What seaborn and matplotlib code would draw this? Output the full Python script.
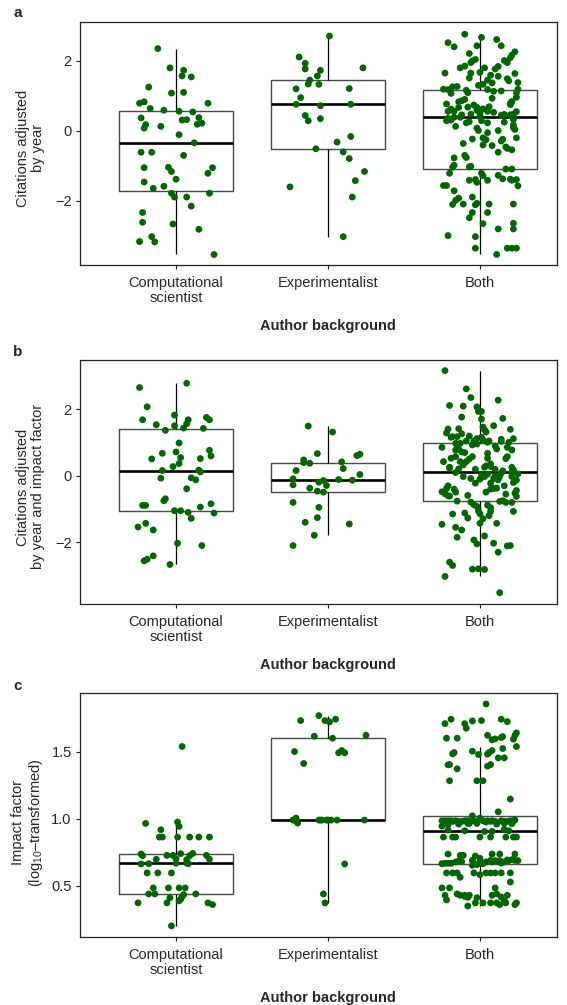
import numpy as np
import pandas as pd
import matplotlib
matplotlib.use("Agg")
import matplotlib.pyplot as plt
import seaborn as sns

groups = ["Computational\nscientist", "Experimentalist", "Both"]

# --- panel a: citations adjusted by year ---
a_comp = [2.34, 1.79, 1.72, 1.56, 1.53, 1.24, 1.07, 1.09, 0.78, 0.82, 0.78, 0.63, 0.58, 0.55, 0.53, 0.36, 0.37,
          0.30, 0.31, 0.17, 0.07, 0.12, 0.18, 0.21, -0.12, -0.35, -0.62, -0.62, -0.71, -1.06, -1.05, -1.17, -1.06,
          -1.22, -1.39, -1.47, -1.65, -1.59, -1.79, -1.90, -1.90, -1.79, -2.16, -2.34, -2.62, -2.67, -2.82, -3.03,
          -3.17, -3.18, -3.54]
a_comp_jit = [-0.12, -0.04, 0.05, 0.04, 0.10, -0.18, -0.03, 0.05, -0.24, -0.21, 0.21, -0.17, -0.08, 0.02, 0.11,
              -0.23, 0.15, 0.04, 0.07, -0.20, -0.21, -0.10, 0.14, 0.17, 0.02, 0.12, -0.23, -0.16, 0.05, -0.21,
              -0.05, -0.03, 0.24, 0.21, 0.00, -0.21, -0.15, -0.08, -0.03, -0.01, 0.07, 0.22, 0.10, -0.22, -0.22,
              -0.02, 0.15, -0.16, -0.24, -0.14, 0.25]
a_exp = [2.70, 2.10, 1.92, 1.76, 1.79, 1.72, 1.56, 1.44, 1.33, 1.32, 1.19, 1.20, 0.94, 0.75, 0.71, 0.75, 0.43,
         0.28, 0.34, -0.17, -0.33, -0.52, -0.61, -0.80, -1.17, -1.43, -1.61, -1.90, -3.03]
a_exp_jit = [0.01, -0.19, -0.15, -0.15, 0.23, -0.05, -0.07, -0.12, -0.13, -0.06, -0.21, 0.14, -0.18, -0.21, -0.05,
             0.15, -0.15, -0.13, -0.05, 0.15, 0.06, -0.08, 0.10, 0.14, 0.24, 0.18, -0.25, 0.16, 0.10]
a_both = [2.75, 2.66, 2.60, 2.51, 2.39, 2.42, 2.42, 2.25, 2.20, 2.15, 2.08, 2.03, 1.99, 1.94, 2.00, 1.94, 1.84,
          1.79, 1.79, 1.83, 1.76, 1.64, 1.64, 1.66, 1.63, 1.58, 1.50, 1.44, 1.55, 1.48, 1.36, 1.29, 1.32, 1.37,
          1.42, 1.25, 1.26, 1.18, 1.17, 1.15, 1.08, 1.17, 1.12, 1.18, 1.08, 1.06, 1.13, 0.92, 0.95, 0.85, 0.82,
          0.89, 0.76, 0.83, 0.78, 0.74, 0.73, 0.66, 0.67, 0.62, 0.68, 0.61, 0.55, 0.55, 0.66, 0.45, 0.58, 0.55,
          0.52, 0.54, 0.47, 0.49, 0.40, 0.47, 0.35, 0.30, 0.38, 0.38, 0.44, 0.46, 0.45, 0.25, 0.22, 0.28, 0.22,
          0.32, 0.28, 0.24, 0.12, 0.16, 0.08, 0.03, 0.07, 0.00, 0.00, -0.06, -0.21, -0.26, -0.24, -0.25, -0.30,
          -0.21, -0.37, -0.41, -0.43, -0.47, -0.51, -0.55, -0.62, -0.71, -0.77, -0.78, -0.99, -1.05, -1.04, -1.02,
          -1.22, -1.10, -1.10, -1.22, -1.29, -1.28, -1.38, -1.42, -1.40, -1.48, -1.42, -1.39, -1.42, -1.40, -1.57,
          -1.57, -1.58, -1.72, -1.93, -1.99, -2.11, -2.10, -2.12, -2.08, -2.10, -2.10, -1.90, -2.34, -2.34, -2.49,
          -2.66, -2.65, -2.81, -2.81, -3.00, -3.03, -3.36, -3.36, -3.36, -3.36, -3.54]
a_both_jit = [-0.10, 0.01, 0.11, -0.21, -0.17, -0.02, 0.14, 0.23, -0.07, 0.21, 0.20, -0.03, -0.05, -0.06, 0.16,
              0.18, -0.10, -0.13, 0.03, 0.12, 0.10, -0.23, -0.06, 0.00, 0.23, 0.07, -0.07, 0.05, 0.12, 0.18, 0.08,
              -0.01, 0.02, 0.25, 0.19, -0.18, -0.15, -0.24, -0.21, -0.09, -0.08, 0.05, 0.09, 0.25, 0.24, -0.19,
              0.14, 0.08, 0.24, -0.12, -0.14, -0.10, -0.22, 0.21, 0.20, 0.20, -0.04, -0.02, -0.08, 0.02, 0.06,
              -0.19, -0.21, -0.17, -0.14, -0.12, -0.02, 0.05, 0.09, 0.24, 0.22, 0.00, 0.00, -0.06, -0.21, -0.19,
              -0.17, -0.13, 0.14, 0.16, 0.20, -0.07, -0.09, 0.01, 0.05, 0.22, -0.22, 0.16, -0.16, 0.22, 0.22, 0.23,
              -0.02, -0.01, 0.12, 0.05, 0.02, 0.04, -0.05, 0.15, 0.14, 0.24, -0.11, 0.02, 0.08, 0.17, 0.18, 0.21,
              0.12, -0.10, -0.09, -0.17, -0.17, -0.18, -0.07, -0.06, -0.20, 0.17, 0.21, 0.01, 0.02, 0.12, 0.15,
              -0.07, -0.03, -0.02, 0.05, 0.20, 0.21, 0.24, -0.24, -0.22, 0.25, -0.17, -0.14, -0.16, -0.18, -0.11,
              -0.03, -0.02, 0.06, 0.22, -0.05, -0.05, 0.05, -0.07, 0.02, 0.22, 0.12, 0.22, -0.21, -0.03, -0.03,
              0.18, 0.21, 0.24, 0.11]

# --- panel b: citations adjusted by year and impact factor ---
b_comp = [2.66, 2.79, 2.08, 1.69, 1.83, 1.54, 1.37, 1.51, 1.44, 1.57, 1.69, 1.76, 1.69, 1.43, 0.99, 0.68, 0.72,
          0.51, 0.55, 0.37, 0.28, 0.52, 0.77, 0.60, 0.16, 0.17, 0.12, -0.07, -0.06, -0.12, -0.39, -0.69, -0.75,
          -0.89, -0.89, -1.05, -1.05, -1.10, -1.28, -0.94, -0.84, -1.12, -1.54, -1.43, -1.63, -2.03, -2.10, -2.41,
          -2.56, -2.51, -2.67]
b_comp_jit = [-0.24, 0.07, -0.19, -0.22, -0.01, -0.13, -0.07, -0.01, 0.05, 0.07, 0.08, 0.20, 0.22, 0.18, 0.02,
              -0.09, 0.00, -0.16, 0.03, 0.02, -0.02, 0.16, 0.22, 0.23, -0.09, 0.15, 0.16, -0.10, 0.10, 0.13, 0.07,
              -0.07, -0.08, -0.22, -0.20, -0.01, 0.03, 0.08, 0.10, 0.16, 0.23, 0.25, -0.25, -0.20, -0.15, 0.01,
              0.17, -0.15, -0.21, -0.19, -0.04]
b_exp = [1.50, 1.32, 0.67, 0.48, 0.40, 0.38, 0.61, 0.65, 0.42, 0.22, 0.16, 0.04, -0.09, -0.27, -0.19, -0.14,
         -0.29, -0.11, -0.13, -0.37, -0.46, -0.49, -0.80, -0.95, -1.26, -1.40, -1.45, -1.79, -2.10]
b_exp_jit = [-0.13, 0.03, -0.07, -0.16, -0.16, -0.12, 0.19, 0.21, 0.09, 0.10, -0.21, 0.21, -0.23, -0.23, -0.06,
             -0.03, -0.01, 0.07, 0.16, -0.12, -0.07, -0.03, -0.23, -0.06, -0.07, -0.15, 0.14, -0.09, -0.23]
b_both = [3.17, 2.62, 2.36, 2.28, 2.12, 2.10, 2.08, 1.94, 1.94, 1.77, 1.71, 1.73, 1.51, 1.47, 1.39, 1.32, 1.41,
          1.29, 1.42, 1.40, 1.18, 1.16, 1.18, 1.27, 1.20, 1.12, 1.12, 1.16, 1.08, 1.05, 1.05, 1.05, 1.01, 1.10,
          1.04, 1.01, 0.98, 0.92, 0.98, 0.93, 0.86, 0.96, 0.90, 0.81, 0.86, 0.78, 0.78, 0.80, 0.72, 0.70, 0.68,
          0.58, 0.53, 0.58, 0.51, 0.43, 0.58, 0.52, 0.43, 0.53, 0.43, 0.36, 0.30, 0.26, 0.28, 0.33, 0.26, 0.23,
          0.20, 0.21, 0.10, 0.20, 0.15, 0.08, 0.26, 0.18, 0.11, 0.06, 0.05, 0.05, -0.02, -0.02, -0.08, -0.01,
          -0.08, -0.10, -0.02, -0.22, -0.22, -0.02, -0.12, -0.13, -0.20, -0.30, -0.38, -0.40, -0.49, -0.30, -0.40,
          -0.38, -0.37, -0.48, -0.49, -0.54, -0.60, -0.61, -0.59, -0.44, -0.52, -0.62, -0.55, -0.76, -0.79, -0.87,
          -0.77, -0.75, -0.80, -0.80, -0.88, -0.96, -0.92, -1.06, -1.14, -1.07, -1.15, -1.12, -1.27, -1.20, -1.07,
          -1.29, -1.43, -1.43, -1.46, -1.55, -1.63, -1.85, -1.81, -1.93, -2.05, -2.03, -2.10, -2.11, -2.30, -2.60,
          -2.70, -2.81, -2.80, -2.82, -3.03, -3.52]
b_both_jit = [-0.23, -0.09, -0.06, 0.12, -0.20, -0.11, -0.02, -0.01, 0.01, -0.12, 0.01, 0.15, 0.09, 0.02, 0.03,
              0.04, -0.21, -0.22, -0.14, 0.20, -0.18, -0.19, -0.15, -0.12, -0.07, 0.22, -0.02, 0.01, 0.02, -0.09,
              -0.04, 0.06, 0.05, 0.14, 0.14, 0.19, -0.16, -0.15, -0.13, -0.05, -0.25, -0.02, 0.10, 0.11, 0.18,
              0.21, -0.16, -0.14, -0.12, -0.10, 0.05, -0.05, -0.19, -0.16, -0.07, -0.09, 0.18, 0.17, -0.24, 0.05,
              -0.13, 0.07, 0.04, 0.03, 0.07, -0.11, -0.20, -0.20, -0.03, -0.14, -0.16, 0.10, 0.15, 0.14, 0.21,
              0.22, 0.21, 0.25, 0.01, 0.05, -0.11, 0.21, -0.06, 0.10, 0.09, 0.00, 0.03, -0.03, 0.07, 0.13, 0.12,
              0.24, 0.22, -0.21, -0.22, -0.17, -0.16, 0.16, 0.07, 0.09, 0.11, -0.25, 0.04, -0.23, -0.21, -0.20,
              -0.08, 0.24, 0.23, 0.24, 0.17, -0.15, -0.06, -0.04, 0.13, 0.15, 0.17, 0.21, 0.05, 0.07, -0.02, -0.01,
              0.00, 0.07, -0.18, -0.10, -0.08, 0.06, 0.22, 0.02, 0.00, 0.11, -0.25, -0.16, -0.12, -0.15, 0.03,
              -0.04, -0.02, 0.09, 0.20, 0.18, 0.12, -0.20, -0.18, -0.05, -0.01, 0.03, -0.23, 0.13]

# --- panel c: impact factor (log10) ---
c_comp = [1.54, 0.965, 0.975, 0.943, 0.918, 0.863, 0.863, 0.863, 0.863, 0.863, 0.863, 0.736, 0.724, 0.726, 0.726,
          0.739, 0.724, 0.741, 0.726, 0.697, 0.662, 0.664, 0.701, 0.667, 0.694, 0.669, 0.664, 0.697, 0.595, 0.595,
          0.595, 0.483, 0.483, 0.483, 0.483, 0.438, 0.438, 0.410, 0.433, 0.418, 0.398, 0.386, 0.438, 0.371, 0.371,
          0.371, 0.358, 0.199]
c_comp_jit = [0.04, -0.20, 0.01, 0.02, -0.10, -0.11, -0.09, 0.01, 0.09, 0.15, 0.22, -0.23, -0.22, -0.06, -0.02,
              0.03, 0.09, 0.11, 0.20, -0.13, -0.23, -0.18, 0.00, 0.00, 0.07, 0.07, 0.08, 0.22, -0.19, -0.12, -0.03,
              -0.15, -0.05, 0.02, 0.06, -0.18, -0.14, -0.04, 0.05, 0.04, 0.03, 0.02, 0.13, -0.25, -0.06, 0.21,
              0.24, -0.03]
c_exp = [1.734, 1.771, 1.734, 1.724, 1.744, 1.617, 1.602, 1.624, 1.502, 1.413, 1.493, 1.510, 1.493, 0.99, 0.99,
         1.005, 0.99, 0.968, 0.99, 0.99, 0.99, 0.99, 0.99, 0.99, 0.99, 0.99, 0.662, 0.438, 0.371]
c_exp_jit = [-0.18, -0.06, -0.02, 0.01, 0.05, -0.09, 0.03, 0.25, -0.22, -0.16, 0.07, 0.09, 0.11, -0.23, -0.22,
             -0.21, -0.21, -0.20, -0.06, -0.05, -0.04, -0.01, 0.00, 0.02, 0.06, 0.24, 0.11, -0.03, -0.02]
c_both = [1.858, 1.711, 1.744, 1.711, 1.677, 1.731, 1.734, 1.744, 1.726, 1.602, 1.602, 1.624, 1.590, 1.597, 1.607,
          1.614, 1.595, 1.622, 1.642, 1.540, 1.485, 1.495, 1.505, 1.480, 1.483, 1.495, 1.510, 1.525, 1.455, 1.455,
          1.403, 1.405, 1.373, 1.393, 1.405, 1.284, 1.284, 1.284, 1.147, 1.052, 1.022,
          0.985, 0.985, 0.985, 0.985, 0.985, 0.980, 0.980, 0.985, 0.965, 0.985, 1.005, 0.985, 0.985, 0.985, 0.980,
          0.985, 0.980, 0.985, 0.990, 0.945, 0.955, 0.960, 0.965, 0.965, 0.960, 0.965, 0.963, 0.975, 0.980, 0.985,
          0.975, 0.980, 0.980, 0.985,
          0.915, 0.905, 0.905, 0.920, 0.910, 0.910,
          0.863, 0.863, 0.863, 0.863, 0.863, 0.863, 0.863, 0.863,
          0.736, 0.726, 0.726, 0.721, 0.704, 0.736, 0.736, 0.736,
          0.664, 0.667, 0.667, 0.684, 0.679, 0.689, 0.667, 0.657, 0.664, 0.677, 0.689, 0.687, 0.687, 0.669, 0.692,
          0.687, 0.694, 0.689, 0.687, 0.652, 0.667, 0.677, 0.677, 0.677, 0.682, 0.677,
          0.595, 0.595, 0.562, 0.595, 0.582, 0.595, 0.595, 0.595, 0.527, 0.483, 0.483, 0.483, 0.428, 0.393, 0.438,
          0.428, 0.420, 0.413, 0.428, 0.410, 0.438, 0.415, 0.428, 0.388, 0.348, 0.371, 0.371, 0.371, 0.358, 0.358,
          0.371, 0.595, 0.595, 0.595, 0.428, 0.428, 0.371, 0.371]
c_both_jit = [0.04, -0.23, -0.19, -0.10, -0.09, -0.05, 0.01, 0.14, 0.18, -0.22, -0.15, 0.05, 0.08, 0.10, 0.14,
              0.15, 0.22, 0.23, 0.24, 0.24, -0.18, -0.17, -0.05, -0.01, 0.05, 0.06, 0.08, 0.15, 0.12, 0.16, -0.21,
              -0.20, -0.15, 0.05, 0.07, -0.20, -0.02, 0.02, 0.20, 0.12, -0.05,
              -0.25, -0.23, -0.21, -0.19, -0.16, -0.14, -0.12, -0.08, -0.07, -0.04, 0.00, 0.02, 0.05, 0.08, 0.10,
              0.14, 0.16, 0.20, 0.23, -0.25, -0.21, -0.14, -0.08, -0.02, 0.11, 0.16, 0.21, -0.23, -0.18, -0.10,
              0.04, 0.07, 0.18, 0.22,
              -0.21, 0.03, 0.08, 0.16, -0.10, 0.19,
              -0.24, -0.18, -0.16, 0.00, 0.07, 0.17, 0.22, 0.24,
              -0.21, -0.13, -0.11, -0.03, 0.00, 0.08, 0.13, 0.23,
              -0.25, -0.21, -0.19, -0.14, -0.12, -0.05, -0.04, -0.02, 0.02, 0.04, 0.07, 0.10, 0.13, 0.14, 0.18,
              0.19, 0.21, 0.23, 0.25, -0.05, -0.23, -0.16, 0.00, 0.08, 0.11, 0.16,
              -0.22, -0.15, -0.13, -0.04, 0.00, 0.07, 0.10, 0.20, 0.20, -0.25, -0.20, 0.10, -0.23, -0.22, -0.15,
              -0.13, -0.10, -0.08, -0.07, -0.02, 0.11, 0.14, 0.18, 0.16, -0.08, 0.02, 0.07, 0.11, 0.13, 0.23,
              0.24, -0.18, 0.04, 0.14, -0.10, 0.08, 0.17, -0.03]


def build_frame(values, jitters):
    frames = []
    for i, (g, v, j) in enumerate(zip(groups, values, jitters)):
        assert len(v) == len(j), (g, len(v), len(j))
        frames.append(pd.DataFrame({"group": g, "value": v, "pos": i + np.asarray(j)}))
    return pd.concat(frames, ignore_index=True)


panels = [
    dict(letter="a", df=build_frame([a_comp, a_exp, a_both], [a_comp_jit, a_exp_jit, a_both_jit]),
         ylabel="Citations adjusted\nby year", ylim=(-3.84, 3.10), yticks=[-2, 0, 2], ylab_y=0.48,
         rect=[80 / 567, 1 - 265 / 1005, 477 / 567, 243 / 1005], letter_y=13),
    dict(letter="b", df=build_frame([b_comp, b_exp, b_both], [b_comp_jit, b_exp_jit, b_both_jit]),
         ylabel="Citations adjusted\nby year and impact factor", ylim=(-3.86, 3.49), yticks=[-2, 0, 2],
         ylab_y=0.48, rect=[80 / 567, 1 - 604 / 1005, 477 / 567, 244 / 1005], letter_y=352),
    dict(letter="c", df=build_frame([c_comp, c_exp, c_both], [c_comp_jit, c_exp_jit, c_both_jit]),
         ylabel="Impact factor\n(log$\\mathregular{_{10}}$\u2013transformed)", ylim=(0.116, 1.94),
         yticks=[0.5, 1.0, 1.5], ylab_y=0.47, rect=[80 / 567, 1 - 937 / 1005, 477 / 567, 244 / 1005],
         letter_y=686),
]

sns.set_theme(style="ticks")
plt.rcParams["font.family"] = ["Liberation Sans", "DejaVu Sans"]
plt.rcParams["mathtext.fontset"] = "custom"
plt.rcParams["mathtext.rm"] = "Liberation Sans"
plt.rcParams["axes.linewidth"] = 0.9
plt.rcParams["axes.edgecolor"] = "#222222"

fig = plt.figure(figsize=(5.67, 10.05), dpi=100)

for p in panels:
    ax = fig.add_axes(p["rect"])
    df = p["df"]
    # box first, then the jittered dots on top
    sns.boxplot(
        data=df, x="group", y="value", order=groups, ax=ax,
        width=0.75, fill=False, color="#4a4a4a", linewidth=1.0,
        showcaps=False, showfliers=False, whis=1.5,
        medianprops=dict(color="black", linewidth=1.9),
        whiskerprops=dict(color="black", linewidth=0.9),
    )
    sns.scatterplot(data=df, x="pos", y="value", ax=ax, color="#006400", s=24,
                    edgecolor="none", legend=False, zorder=3)

    ax.set_xlim(-0.632, 2.507)
    ax.set_ylim(*p["ylim"])
    ax.set_yticks(p["yticks"])
    if p["letter"] == "c":
        ax.set_yticklabels([f"{t:.1f}" for t in p["yticks"]])
    ax.set_xticks([0, 1, 2])
    ax.set_xticklabels(groups, linespacing=1.1)
    for side in ["top", "right", "left", "bottom"]:
        ax.spines[side].set_visible(True)
    ax.tick_params(axis="both", direction="out", length=3, width=0.8, labelsize=10.5,
                   color="#222222")
    ax.tick_params(axis="x", pad=5)
    ax.tick_params(axis="y", pad=3)

    ax.set_ylabel(p["ylabel"], fontsize=10.5, linespacing=1.15)
    ax.yaxis.set_label_coords(-0.073, p["ylab_y"])
    ax.set_xlabel("Author background", fontsize=10.5, fontweight="bold")
    ax.xaxis.set_label_coords(0.52, -0.222)

    fig.text(13 / 567, 1 - p["letter_y"] / 1005, p["letter"], fontsize=11, fontweight="bold",
             ha="left", va="center")

fig.savefig("out.png", dpi=100)
